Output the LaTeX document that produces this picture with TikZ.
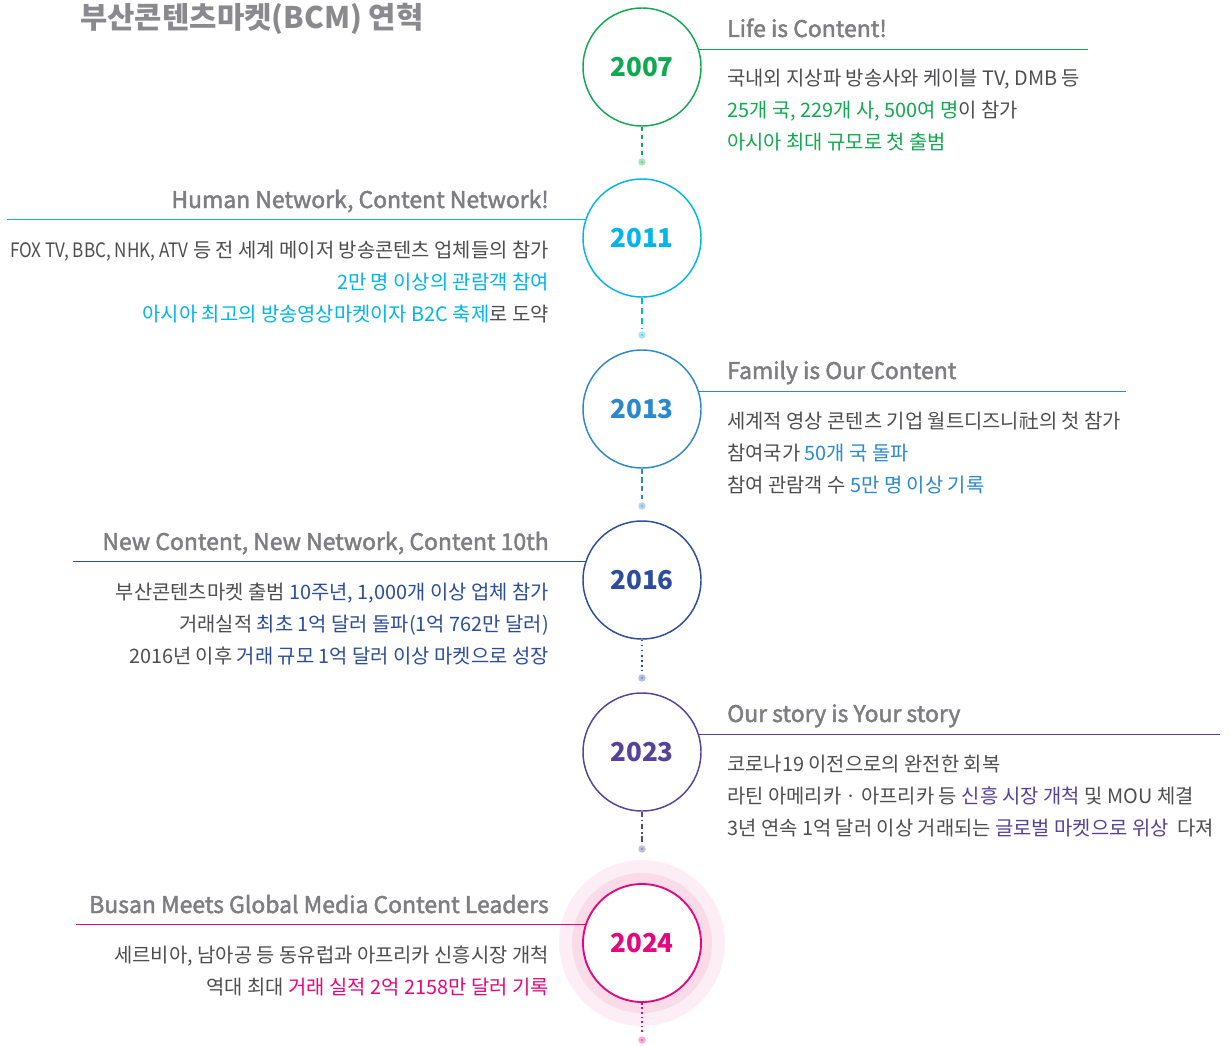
\documentclass[tikz,border=0pt]{standalone}
\usepackage{fontspec}
\usepackage{graphicx}
\setmainfont{Noto Sans CJK KR}
\definecolor{headgray}{HTML}{7E7E82}
\definecolor{bodygray}{HTML}{4E4E50}
\definecolor{titlegray}{HTML}{8A8A8E}
\definecolor{cA}{HTML}{0FAA4F}
\definecolor{cB}{HTML}{00B5EC}
\definecolor{cC}{HTML}{2A88CF}
\definecolor{cD}{HTML}{2C4C9E}
\definecolor{cE}{HTML}{56419B}
\definecolor{cF}{HTML}{E5077F}
\definecolor{pinkA}{HTML}{FDEEF5}
\definecolor{pinkB}{HTML}{FADCE9}
\newcommand\yearfont{\bfseries\fontsize{19.5}{23}\selectfont}
\newcommand\headfont{\fontsize{17.2}{20}\selectfont\addfontfeature{FakeBold=2}}
\newcommand\bodyfont{\fontsize{14.9}{17}\selectfont}
\newcommand\titlefont{\bfseries\fontsize{22.3}{26}\selectfont}
\newcommand\hlc[2]{\textcolor{#1}{#2}}
\tikzset{
  yearc/.style={circle, draw=#1, line width=1.1pt, fill=white, minimum size=88.5pt, inner sep=0pt, text=#1, font=\yearfont},
  headtxt/.style={inner sep=0pt, text=headgray, font=\headfont},
  bodytxt/.style={inner sep=0pt, text=bodygray, font=\bodyfont},
  hrule/.style={draw=#1, line width=1.1pt},
  dotn/.style={circle, fill=#1, draw=#1!35, line width=2pt, inner sep=0pt, minimum size=3.4pt},
  conn/.style={draw=#1, line width=1.5pt, shorten >=2.5pt},
}
\begin{document}
\begin{tikzpicture}[x=0.75pt,y=-0.75pt]
\useasboundingbox (0,0) rectangle (1230,1045);

% title
\node[inner sep=0pt, text=titlegray, font=\titlefont, anchor=base west] (title) at (80,29) {부산콘텐츠마켓(BCM) 연혁};

% 2024 glow
\fill[pinkA] (642,943) circle (62.25pt);
\fill[pinkB] (642,943) circle (52.5pt);

% circles
\node[yearc=cA] (y07) at (642,67) {2007};
\node[yearc=cB] (y11) at (642,238) {2011};
\node[yearc=cC] (y13) at (642,409) {2013};
\node[yearc=cD] (y16) at (642,580) {2016};
\node[yearc=cE] (y23) at (642,752) {2023};
\node[yearc=cF, line width=1.4pt] (y24) at (642,943) {2024};

% dots
\node[dotn=cA] (d07) at (642,162) {};
\node[dotn=cB] (d11) at (642,335) {};
\node[dotn=cC] (d13) at (642,506) {};
\node[dotn=cD] (d16) at (642,678) {};
\node[dotn=cE] (d23) at (642,849) {};
\node[dotn=cF] (d24) at (642,1040) {};

% connectors
\draw[conn=cA, dash pattern=on 3.5pt off 2.5pt] (y07.south) -- (d07);
\draw[conn=cB, dash pattern=on 5pt off 2.5pt] (y11.south) -- (d11);
\draw[conn=cC, dash pattern=on 4pt off 2.5pt] (y13.south) -- (d13);
\draw[conn=cD, line width=1.3pt, dash pattern=on 1.2pt off 2.6pt] (y16.south) -- (d16);
\draw[conn=cE, dash pattern=on 4pt off 2pt on 1.2pt off 2pt] (y23.south) -- (d23);
\draw[conn=cF, line width=1.3pt, dash pattern=on 1.2pt off 2.2pt] (y24.south) -- (d24);

% rule end points
\coordinate (e07) at (1088,49);
\coordinate (e11) at (7,220);
\coordinate (e13) at (1126,391);
\coordinate (e16) at (73,562);
\coordinate (e23) at (1220,734);
\coordinate (e24) at (76,925);

\draw[hrule=cA] (y07.17.8) -- (y07.17.8 -| e07);
\draw[hrule=cB] (y11.162.2) -- (y11.162.2 -| e11);
\draw[hrule=cC] (y13.17.8) -- (y13.17.8 -| e13);
\draw[hrule=cD] (y16.162.2) -- (y16.162.2 -| e16);
\draw[hrule=cE] (y23.17.8) -- (y23.17.8 -| e23);
\draw[hrule=cF] (y24.162.2) -- (y24.162.2 -| e24);

% 2007
\node[headtxt, anchor=base west] (h07) at (727,37) {Life is Content!};
\node[bodytxt, anchor=base west] (b07a) at (727,86) {국내외 지상파 방송사와 케이블 TV, DMB 등};
\node[bodytxt, anchor=base west] (b07b) at (727,118) {\hlc{cA}{25개 국, 229개 사, 500여 명}이 참가};
\node[bodytxt, anchor=base west] (b07c) at (727,150) {\hlc{cA}{아시아 최대 규모로 첫 출범}};

% 2011
\node[headtxt, anchor=base east] (h11) at (549,208) {Human Network, Content Network!};
\node[bodytxt, anchor=base east] (b11a) at (549,257) {\scalebox{0.86}[1]{FOX TV, BBC, NHK, ATV} 등 전 세계 메이저 방송콘텐츠 업체들의 참가};
\node[bodytxt, anchor=base east] (b11b) at (549,289) {\hlc{cB}{2만 명 이상의 관람객 참여}};
\node[bodytxt, anchor=base east] (b11c) at (549,321) {\hlc{cB}{아시아 최고의 방송영상마켓이자 B2C 축제}로 도약};

% 2013
\node[headtxt, anchor=base west] (h13) at (727,379) {Family is Our Content};
\node[bodytxt, anchor=base west] (b13a) at (727,428) {세계적 영상 콘텐츠 기업 월트디즈니社의 첫 참가};
\node[bodytxt, anchor=base west] (b13b) at (727,460) {참여국가 \hlc{cC}{50개 국 돌파}};
\node[bodytxt, anchor=base west] (b13c) at (727,492) {참여 관람객 수 \hlc{cC}{5만 명 이상 기록}};

% 2016
\node[headtxt, anchor=base east] (h16) at (549,550) {New Content, New Network, Content 10th};
\node[bodytxt, anchor=base east] (b16a) at (549,599) {부산콘텐츠마켓 출범 \hlc{cD}{10주년, 1,000개 이상 업체 참가}};
\node[bodytxt, anchor=base east] (b16b) at (549,631) {거래실적 \hlc{cD}{최초 1억 달러 돌파(1억 762만 달러)}};
\node[bodytxt, anchor=base east] (b16c) at (549,663) {2016년 이후 \hlc{cD}{거래 규모 1억 달러 이상 마켓으로 성장}};

% 2023
\node[headtxt, anchor=base west] (h23) at (727,722) {Our story is Your story};
\node[bodytxt, anchor=base west] (b23a) at (727,771) {코로나19 이전으로의 완전한 회복};
\node[bodytxt, anchor=base west] (b23b) at (727,803) {라틴 아메리카 · 아프리카 등 \hlc{cE}{신흥 시장 개척} 및 MOU 체결};
\node[bodytxt, anchor=base west] (b23c) at (727,835) {3년 연속 1억 달러 이상 거래되는 \hlc{cE}{글로벌 마켓으로 위상}\ \ 다져};

% 2024
\node[headtxt, anchor=base east] (h24) at (549,913) {Busan Meets Global Media Content Leaders};
\node[bodytxt, anchor=base east] (b24a) at (549,962) {세르비아, 남아공 등 동유럽과 아프리카 신흥시장 개척};
\node[bodytxt, anchor=base east] (b24b) at (549,994) {역대 최대 \hlc{cF}{거래 실적 2억 2158만 달러 기록}};
\end{tikzpicture}
\end{document}
